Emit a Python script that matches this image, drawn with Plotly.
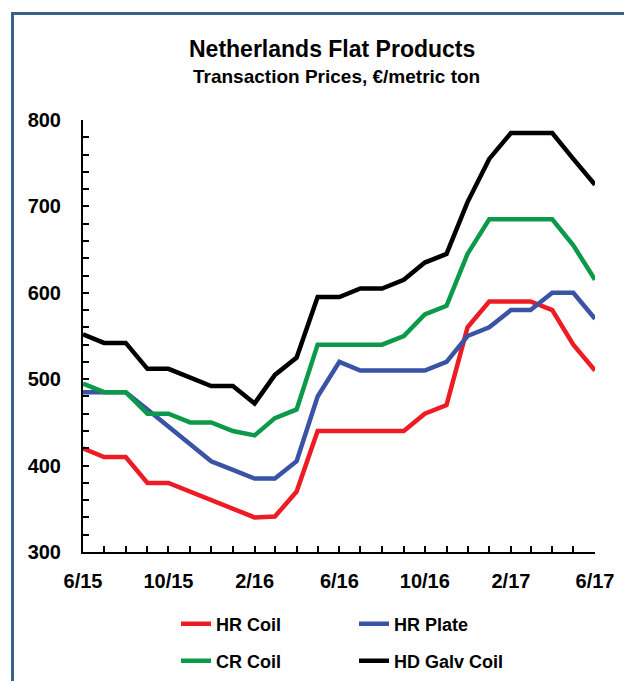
import plotly.graph_objects as go

# monthly transaction prices, EUR/metric ton, Jun 2015 - Jun 2017
months = [
    "2015-06-01", "2015-07-01", "2015-08-01", "2015-09-01", "2015-10-01",
    "2015-11-01", "2015-12-01", "2016-01-01", "2016-02-01", "2016-03-01",
    "2016-04-01", "2016-05-01", "2016-06-01", "2016-07-01", "2016-08-01",
    "2016-09-01", "2016-10-01", "2016-11-01", "2016-12-01", "2017-01-01",
    "2017-02-01", "2017-03-01", "2017-04-01", "2017-05-01", "2017-06-01",
]

hr_coil = [420, 410, 410, 380, 380, 370, 360, 350, 340, 341, 370, 440, 440,
           440, 440, 440, 460, 470, 560, 590, 590, 590, 580, 540, 510]
hr_plate = [485, 485, 485, 465, 445, 425, 405, 395, 385, 385, 405, 480, 520,
            510, 510, 510, 510, 520, 550, 560, 580, 580, 600, 600, 570]
cr_coil = [495, 485, 485, 460, 460, 450, 450, 440, 435, 455, 465, 540, 540,
           540, 540, 550, 575, 585, 645, 685, 685, 685, 685, 655, 615]
hd_galv = [552, 542, 542, 512, 512, 502, 492, 492, 472, 505, 525, 595, 595,
           605, 605, 615, 635, 645, 705, 755, 785, 785, 785, 755, 725]

FONT = "Liberation Sans, Arial, sans-serif"
OFF = 8  # page body margin

series = [
    ("HR Coil", hr_coil, "#ED1C24", "legend"),
    ("HR Plate", hr_plate, "#3A53A4", "legend"),
    ("CR Coil", cr_coil, "#0C9A4A", "legend2"),
    ("HD Galv Coil", hd_galv, "#000000", "legend2"),
]

fig = go.Figure()
for name, vals, color, leg in series:
    fig.add_trace(
        go.Scatter(
            x=months, y=vals, name=name, mode="lines",
            line=dict(color=color, width=4.5),
            legend=leg,
        )
    )

axis_common = dict(
    showline=True, linecolor="black", linewidth=2,
    ticks="inside", ticklen=6, tickwidth=2, tickcolor="black",
    showgrid=False, zeroline=False,
    tickfont=dict(family=FONT, size=20, color="black", weight="bold"),
)

fig.update_xaxes(
    type="date",
    range=["2015-06-01", "2017-06-01"],
    tick0="2015-06-01", dtick="M4", tickformat="%-m/%y",
    minor=dict(dtick="M1", ticks="inside", ticklen=6, tickwidth=2, tickcolor="black"),
    ticklabelstandoff=10,
    **axis_common,
)
fig.update_yaxes(
    range=[300, 800], dtick=100,
    minor=dict(dtick=20, ticks="inside", ticklen=6, tickwidth=2, tickcolor="black"),
    ticklabelstandoff=16,
    **axis_common,
)

legend_common = dict(
    orientation="h", xref="container", yref="container",
    xanchor="left", yanchor="middle",
    entrywidth=133, entrywidthmode="pixels",
    font=dict(family=FONT, size=18, color="black", weight="bold"),
    bgcolor="rgba(0,0,0,0)", traceorder="normal",
)

fig.update_layout(
    width=632, height=681,
    margin=dict(l=83 - OFF, r=37 + OFF, t=120 - OFF, b=129 + OFF),
    paper_bgcolor="white", plot_bgcolor="white",
    showlegend=True,
    legend=dict(x=(176 - OFF) / 632, y=1 - (624 - OFF) / 681, **legend_common),
    legend2=dict(x=(176 - OFF) / 632, y=1 - (661 - OFF) / 681, **legend_common),
    annotations=[
        dict(text="Netherlands Flat Products", xref="paper", yref="paper",
             x=(332 - 83) / 512, y=(552 - 49) / 432, showarrow=False,
             xanchor="center", yanchor="middle",
             font=dict(family=FONT, size=23, color="black", weight="bold")),
        dict(text="Transaction Prices, €/metric ton", xref="paper", yref="paper",
             x=(336 - 83) / 512, y=(552 - 76) / 432, showarrow=False,
             xanchor="center", yanchor="middle",
             font=dict(family=FONT, size=19, color="black", weight="bold")),
    ],
    shapes=[
        dict(type="rect", xref="paper", yref="paper",
             x0=(12.5 - 83) / 512, x1=1.3, y0=-0.5, y1=(552 - 13.5) / 432,
             line=dict(color="#3A6189", width=3), layer="below"),
    ],
)

fig.write_html("out.html")
